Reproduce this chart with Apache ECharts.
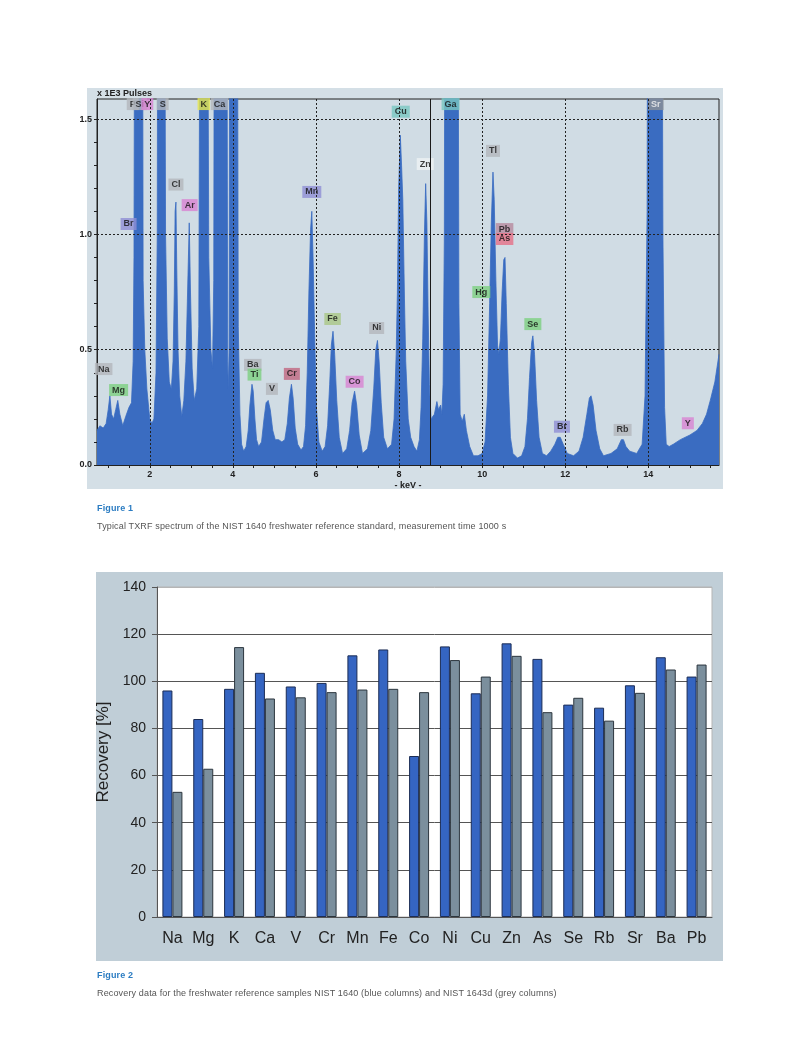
<!DOCTYPE html>
<html>
<head>
<meta charset="utf-8">
<script src="https://cdn.jsdelivr.net/npm/echarts@6/dist/echarts.min.js"></script>
<style>
  html, body { margin: 0; padding: 0; background: #fff; }
  #page { position: relative; width: 800px; height: 1062px; overflow: hidden; }
  .panel { position: absolute; }
  #chart { position: absolute; left: 0; top: 0; width: 800px; height: 1062px; }
  .cap { position: absolute; left: 97px; font-family: 'Liberation Sans', Arial, sans-serif; font-size: 9px; color: #555; letter-spacing: 0.15px; white-space: nowrap; }
  .fig { color: #2b7cc2; font-weight: bold; }
</style>
</head>
<body>
<div id="page">
  <div class="panel" style="left:87px;top:88px;width:636px;height:401px;background:#d4dfe6"></div>
  <div class="panel" style="left:96px;top:572px;width:627px;height:389px;background:#c0ced7"></div>
  <div id="chart"></div>
  <div class="cap fig" style="top:503px">Figure 1</div>
  <div class="cap" style="top:521px">Typical TXRF spectrum of the NIST 1640 freshwater reference standard, measurement time 1000 s</div>
  <div class="cap fig" style="top:970px">Figure 2</div>
  <div class="cap" style="top:988px">Recovery data for the freshwater reference samples NIST 1640 (blue columns) and NIST 1643d (grey columns)</div>
</div>
<script>
// --- Figure 1: TXRF spectrum (x 1E3 pulses vs keV) ---
// values of 3.00 are off-scale peaks, clipped at the top of the plot as in the original
const spectrumKeV = [
  0.73, 0.80, 0.88, 0.95, 1.00, 1.04, 1.08, 1.13, 1.18, 1.23, 1.28, 1.35, 1.42, 1.50, 1.56,
  1.60, 1.62, 1.645, 1.82, 1.84, 1.88, 1.93, 2.00, 2.05, 2.10, 2.15, 2.18, 2.20, 2.35, 2.38, 2.42, 2.47, 2.52,
  2.56, 2.59, 2.61, 2.63, 2.65, 2.68, 2.72, 2.77, 2.82, 2.87, 2.91, 2.95, 2.98, 3.02, 3.07,
  3.13, 3.18, 3.22, 3.38, 3.42, 3.47, 3.51, 3.54, 3.56, 3.85, 3.875, 3.89, 3.91, 3.93, 4.10, 4.13, 4.17, 4.21, 4.26,
  4.32, 4.37, 4.41, 4.46, 4.49, 4.53, 4.57, 4.62, 4.69, 4.75, 4.80, 4.85, 4.90, 4.96, 5.02, 5.10, 5.18, 5.25, 5.31, 5.36, 5.41, 5.45, 5.50, 5.56, 5.64,
  5.70, 5.75, 5.79, 5.83, 5.87, 5.90, 5.93, 5.97, 6.01, 6.07, 6.15, 6.22, 6.28, 6.33, 6.37, 6.41, 6.45, 6.50, 6.56, 6.64, 6.74, 6.81, 6.87, 6.93, 6.98, 7.04, 7.12,
  7.24, 7.32, 7.39, 7.44, 7.48, 7.52, 7.57, 7.63, 7.72, 7.82, 7.88, 7.93, 7.96, 7.99, 8.03, 8.06, 8.09, 8.13, 8.16, 8.22, 8.28, 8.36, 8.43, 8.49, 8.53, 8.57, 8.61, 8.64, 8.67, 8.70, 8.73, 8.77,
  8.85, 8.91, 8.95, 9.00, 9.03, 9.06, 9.09, 9.11, 9.41, 9.44, 9.47, 9.52, 9.57, 9.62, 9.70, 9.79, 9.90, 10.00,
  10.07, 10.13, 10.18, 10.22, 10.26, 10.29, 10.33, 10.37, 10.40, 10.44, 10.48, 10.52, 10.55, 10.58, 10.63, 10.68, 10.74, 10.85, 10.95, 11.03, 11.09, 11.14, 11.19, 11.22, 11.26, 11.31, 11.37, 11.45, 11.55, 11.65,
  11.75, 11.82, 11.88, 11.95, 12.05, 12.20, 12.33, 12.43, 12.52, 12.58, 12.62, 12.67, 12.74, 12.83, 12.92, 13.10, 13.25, 13.35, 13.40, 13.46, 13.55, 13.72,
  13.85, 13.92, 13.97, 13.99, 14.32, 14.35, 14.39, 14.43, 14.50, 14.60, 14.77, 15.00, 15.17, 15.30, 15.40, 15.49, 15.60, 15.70
];
const spectrumPulses = [
  0.15, 0.17, 0.16, 0.18, 0.24, 0.30, 0.22, 0.20, 0.24, 0.28, 0.22, 0.17, 0.21, 0.25, 0.27,
  0.45, 0.90, 3.00, 3.00, 0.80, 0.50, 0.33, 0.20, 0.18, 0.20, 0.40, 1.00, 3.00, 3.00, 1.00, 0.55, 0.36, 0.33,
  0.45, 0.75, 1.10, 1.14, 0.85, 0.50, 0.30, 0.21, 0.28, 0.45, 0.75, 1.05, 0.75, 0.42, 0.28,
  0.33, 0.60, 3.00, 3.00, 0.90, 0.50, 0.42, 0.80, 3.00, 3.00, 0.45, 0.33, 0.50, 3.00, 3.00, 0.60, 0.22, 0.09, 0.06,
  0.08, 0.15, 0.26, 0.35, 0.32, 0.20, 0.11, 0.08, 0.10, 0.20, 0.27, 0.28, 0.24, 0.15, 0.11, 0.11, 0.10, 0.11, 0.18, 0.29, 0.35, 0.29, 0.16, 0.09, 0.065,
  0.08, 0.17, 0.40, 0.75, 1.02, 1.10, 0.90, 0.55, 0.25, 0.10, 0.06, 0.08, 0.17, 0.35, 0.52, 0.58, 0.48, 0.28, 0.12, 0.05, 0.07, 0.15, 0.27, 0.32, 0.26, 0.13, 0.05,
  0.07, 0.15, 0.33, 0.50, 0.54, 0.45, 0.27, 0.12, 0.07, 0.09, 0.20, 0.48, 0.75, 1.20, 1.43, 1.30, 1.15, 0.72, 0.45, 0.20, 0.12, 0.08, 0.06, 0.11, 0.25, 0.55, 1.00, 1.22, 1.05, 0.65, 0.35, 0.20,
  0.22, 0.275, 0.24, 0.26, 0.22, 0.35, 1.00, 3.00, 3.00, 0.70, 0.22, 0.19, 0.22, 0.15, 0.08, 0.04, 0.04, 0.05,
  0.10, 0.30, 0.70, 1.05, 1.27, 1.15, 0.80, 0.52, 0.48, 0.55, 0.75, 0.89, 0.90, 0.70, 0.35, 0.12, 0.05, 0.03, 0.04, 0.08, 0.20, 0.38, 0.53, 0.56, 0.48, 0.28, 0.12, 0.05, 0.04, 0.06,
  0.09, 0.12, 0.12, 0.09, 0.05, 0.04, 0.06, 0.12, 0.22, 0.29, 0.30, 0.26, 0.15, 0.07, 0.04, 0.05, 0.07, 0.11, 0.11, 0.08, 0.06, 0.05,
  0.09, 0.30, 1.10, 3.00, 3.00, 1.00, 0.25, 0.09, 0.08, 0.09, 0.11, 0.13, 0.15, 0.18, 0.22, 0.28, 0.36, 0.48
];
const keVLabels = [2, 4, 6, 8, 10, 12, 14];
const keVTicks = [1, 1.5, 2, 2.5, 3, 3.5, 4, 4.5, 5, 5.5, 6, 6.5, 7, 7.5, 8, 8.5, 9, 9.5, 10, 10.5, 11, 11.5, 12, 12.5, 13, 13.5, 14, 14.5, 15, 15.5];
const pulseLabels = [0, 0.5, 1.0, 1.5];
const pulseTicks = [0, 0.1, 0.2, 0.3, 0.4, 0.5, 0.6, 0.7, 0.8, 0.9, 1.0, 1.1, 1.2, 1.3, 1.4, 1.5];

// peak tags: [element, keV, height, tag colour]
const peakTags = [
  ['P', 1.59, 1.565, 'grey'], ['Si', 1.76, 1.565, 'grey'], ['Y', 1.94, 1.565, 'pink'],
  ['S', 2.31, 1.565, 'grey'], ['K', 3.30, 1.565, 'yellow'], ['Ca', 3.68, 1.565, 'grey'],
  ['Cl', 2.63, 1.216, 'grey'], ['Ar', 2.96, 1.127, 'pink'], ['Br', 1.49, 1.045, 'purple'],
  ['Mn', 5.90, 1.184, 'purple'], ['Na', 0.89, 0.416, 'grey'], ['Mg', 1.25, 0.325, 'green'],
  ['Ba', 4.48, 0.434, 'grey'], ['Ti', 4.52, 0.392, 'green'], ['V', 4.94, 0.330, 'grey'],
  ['Cr', 5.42, 0.395, 'rose'], ['Fe', 6.40, 0.633, 'olive'], ['Ni', 7.46, 0.594, 'grey'],
  ['Co', 6.93, 0.361, 'pink'], ['Cu', 8.04, 1.532, 'teal'], ['Zn', 8.63, 1.305, 'white'],
  ['Ga', 9.24, 1.565, 'teal'], ['Tl', 10.26, 1.362, 'grey'], ['Pb', 10.54, 1.023, 'mauve'],
  ['As', 10.54, 0.980, 'red'], ['Hg', 9.98, 0.750, 'green'], ['Se', 11.22, 0.611, 'green'],
  ['Br', 11.92, 0.166, 'purple'], ['Rb', 13.38, 0.152, 'grey'], ['Y', 14.95, 0.181, 'pink'],
  ['Sr', 14.18, 1.565, 'dark']
];
const tagColours = {
  grey: '#b3b7bb', pink: '#d883d2', yellow: '#e6e64c', purple: '#8e8fd4', green: '#7ccf80',
  rose: '#c1677f', olive: '#a9c785', teal: '#78c7c1', white: '#eef2f4', mauve: '#b7899d',
  red: '#e56f86', dark: '#8d9195'
};

// --- Figure 2: recovery data ---
const elements = ['Na', 'Mg', 'K', 'Ca', 'V', 'Cr', 'Mn', 'Fe', 'Co', 'Ni', 'Cu', 'Zn', 'As', 'Se', 'Rb', 'Sr', 'Ba', 'Pb'];
const nist1640 = [96.1, 84.0, 96.8, 103.6, 97.8, 99.3, 111.0, 113.5, 68.3, 114.8, 94.9, 116.1, 109.5, 90.1, 88.8, 98.3, 110.2, 102.0];
const nist1643d = [53.1, 62.9, 114.5, 92.7, 93.2, 95.4, 96.5, 96.8, 95.4, 109.0, 102.0, 110.8, 86.9, 93.0, 83.3, 95.1, 105.0, 107.1];

const spectrum = spectrumKeV.map((k, i) => [k, spectrumPulses[i]]);
const tags = peakTags.map(t => ({
  name: t[0],
  value: [t[1], t[2]],
  label: {
    backgroundColor: tagColours[t[3]],
    color: t[3] === 'dark' ? '#f4f4f4' : '#111'
  }
}));

const chart = echarts.init(document.getElementById('chart'), null, { renderer: 'canvas' });
const smallBold = { fontFamily: 'Liberation Sans, Arial, sans-serif', fontSize: 9, fontWeight: 'bold', color: '#222' };

const option = {
  animation: false,
  backgroundColor: 'transparent',
  grid: [
    { left: 97, top: 99, width: 622, height: 366, show: true, backgroundColor: '#d0dce4', borderColor: '#222', borderWidth: 1 },
    { left: 157, top: 587, width: 555, height: 330, show: true, backgroundColor: '#fff', borderColor: '#b5b5b5', borderWidth: 1 }
  ],
  xAxis: [
    {
      type: 'value', gridIndex: 0, min: 0.73, max: 15.7,
      name: '- keV -', nameLocation: 'middle', nameGap: 16, nameTextStyle: smallBold,
      axisLine: { show: true, lineStyle: { color: '#222' } },
      axisTick: { show: true, length: 3, customValues: keVTicks, lineStyle: { color: '#222' } },
      axisLabel: Object.assign({ customValues: keVLabels, margin: 5 }, smallBold),
      splitLine: { show: false }
    },
    {
      type: 'category', gridIndex: 1, data: elements,
      axisLine: { lineStyle: { color: '#555' } },
      axisTick: { length: 5, lineStyle: { color: '#555' } },
      axisLabel: { interval: 0, margin: 14, fontSize: 16, color: '#222', fontFamily: 'Liberation Sans, Arial, sans-serif' }
    }
  ],
  yAxis: [
    {
      type: 'value', gridIndex: 0, min: 0, max: 1.587,
      name: 'x 1E3 Pulses', nameLocation: 'end', nameGap: 1,
      nameTextStyle: Object.assign({ align: 'left' }, smallBold),
      axisLine: { show: true, lineStyle: { color: '#222' } },
      axisTick: { show: true, length: 3, customValues: pulseTicks, lineStyle: { color: '#222' } },
      axisLabel: Object.assign({ customValues: pulseLabels, margin: 5, formatter: v => v.toFixed(1) }, smallBold),
      splitLine: { show: false }
    },
    {
      type: 'value', gridIndex: 1, min: 0, max: 140, interval: 20,
      name: 'Recovery [%]', nameLocation: 'middle', nameGap: 35,
      nameTextStyle: { fontSize: 17, color: '#222', fontFamily: 'Liberation Sans, Arial, sans-serif' },
      axisLine: { show: true, lineStyle: { color: '#555' } },
      axisTick: { show: true, length: 5, lineStyle: { color: '#555' } },
      axisLabel: { fontSize: 14, color: '#222', margin: 11, fontFamily: 'Liberation Sans, Arial, sans-serif' },
      splitLine: { show: true, lineStyle: { color: ['#555', '#555', '#555', '#555', '#555', '#555', '#555', '#b5b5b5'], width: 1 } }
    }
  ],
  series: [
    {
      // dotted grid of the spectrum plot, kept under the spectrum
      type: 'line', xAxisIndex: 0, yAxisIndex: 0, data: [], z: 1,
      markLine: {
        silent: true, symbol: ['none', 'none'], label: { show: false },
        lineStyle: { color: '#222', type: [2, 2], width: 1 },
        data: keVLabels.map(k => ({ xAxis: k })).concat([0.5, 1.0, 1.5].map(v => ({ yAxis: v })))
      }
    },
    {
      name: 'NIST 1640 spectrum', type: 'line', xAxisIndex: 0, yAxisIndex: 0,
      data: spectrum, symbol: 'none', z: 2, clip: true,
      lineStyle: { color: '#3a6cc1', width: 0.8 },
      areaStyle: { color: '#3a6cc1', opacity: 1 },
      markLine: {
        silent: true, symbol: ['none', 'none'], label: { show: false },
        lineStyle: { color: '#1a1a1a', type: 'solid', width: 1 },
        data: [{ xAxis: 8.75 }]
      }
    },
    {
      name: 'tags', type: 'scatter', xAxisIndex: 0, yAxisIndex: 0, z: 4,
      symbol: 'rect', symbolSize: 1, itemStyle: { color: 'transparent' },
      data: tags,
      label: {
        show: true, position: 'inside', formatter: '{b}',
        fontFamily: 'Liberation Sans, Arial, sans-serif', fontSize: 9, fontWeight: 'bold',
        padding: [2, 3, 1, 3]
      }
    },
    {
      name: 'NIST 1640', type: 'bar', xAxisIndex: 1, yAxisIndex: 1,
      data: nist1640, barWidth: 10, barGap: '0%',
      itemStyle: { color: '#3565c2', borderColor: '#1c2d55', borderWidth: 1 }
    },
    {
      name: 'NIST 1643d', type: 'bar', xAxisIndex: 1, yAxisIndex: 1,
      data: nist1643d, barWidth: 10, barGap: '0%',
      itemStyle: { color: '#7b8f9d', borderColor: '#2c363e', borderWidth: 1 }
    }
  ]
};
chart.setOption(option);
</script>
</body>
</html>
